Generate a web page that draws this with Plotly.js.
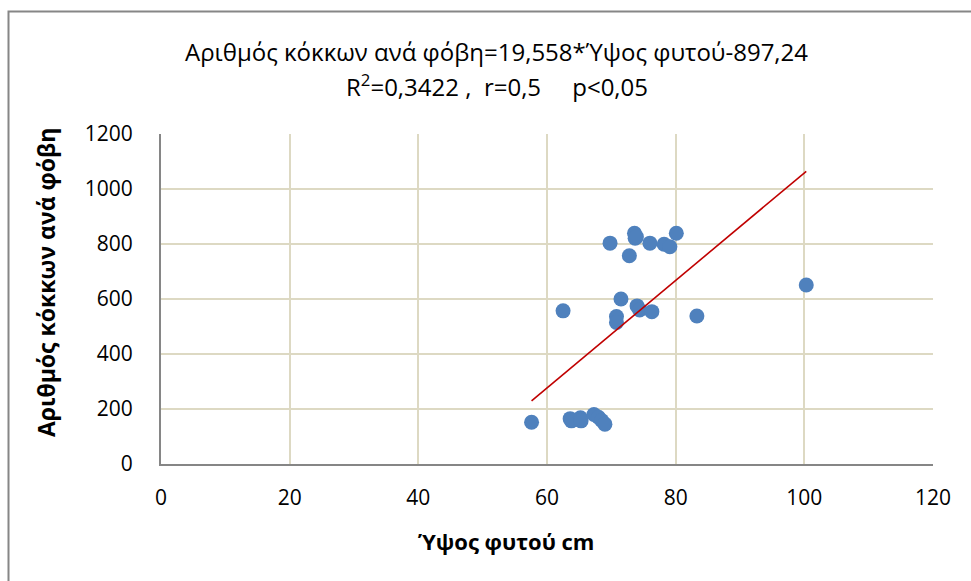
<!DOCTYPE html>
<html>
<head>
<meta charset="utf-8">
<script src="https://cdn.plot.ly/plotly-3.0.1.min.js"></script>
<style>
  html, body { margin: 0; padding: 0; background: #fff; }
  #chart { width: 971px; height: 581px; }
</style>
</head>
<body>
<div id="chart"></div>
<script>
// Plant height (cm) and number of grains per panicle
const plantHeight = [57.6, 63.6, 63.8, 65.2, 65.3, 67.3, 68.0, 68.5, 69.0,
                     62.5, 70.8, 70.8, 71.5, 74.0, 74.4, 76.3, 83.3,
                     69.8, 72.8, 73.6, 73.7, 73.9, 76.0, 78.2, 79.1, 80.1, 100.3];
const grainsPerPanicle = [152, 165, 157, 168, 157, 180, 170, 158, 145,
                          557, 536, 515, 600, 575, 560, 554, 538,
                          803, 757, 839, 821, 826, 803, 799, 790, 839, 651];

// Linear regression reported in the title
const slope = 19.558;
const intercept = -897.24;
const xTicks = [0, 20, 40, 60, 80, 100, 120];
const yTicks = [0, 200, 400, 600, 800, 1000, 1200];

const titleLines = [
  'Αριθμός κόκκων ανά φόβη=19,558*Ύψος φυτού-897,24',
  'R<sup>2</sup>=0,3422 ,  r=0,5     p<0,05'
];

const xMin = Math.min(...plantHeight);
const xMax = Math.max(...plantHeight);
const fitX = [xMin, xMax];
const fitY = fitX.map(v => slope * v + intercept);

const FONT = "Open Sans, Noto Sans, sans-serif";

const traces = [
  {
    x: plantHeight, y: grainsPerPanicle,
    type: 'scatter', mode: 'markers',
    marker: { color: '#4F81BD', size: 15, line: { width: 0 } },
    hoverinfo: 'x+y', showlegend: false
  },
  {
    x: fitX, y: fitY,
    type: 'scatter', mode: 'lines',
    line: { color: '#C00000', width: 1.6 },
    hoverinfo: 'skip', showlegend: false
  }
];

const axisCommon = {
  showgrid: true, gridcolor: '#DDD9C3', gridwidth: 2,
  showline: true, linecolor: '#868686', linewidth: 2,
  zeroline: false, ticks: 'outside', tickcolor: 'rgba(0,0,0,0)',
  tickfont: { family: FONT, size: 21, color: '#000' },
  fixedrange: true
};

// plot area spans 161..933 px horizontally, 134..464 px vertically
const px2x = px => (px - 161) / 772;
const py2y = py => (464 - py) / 330;

const layout = {
  width: 971, height: 581,
  margin: { l: 161, r: 38, t: 134, b: 117 },
  paper_bgcolor: '#ffffff', plot_bgcolor: '#ffffff',
  font: { family: FONT, color: '#000000', size: 18 },
  xaxis: Object.assign({}, axisCommon, {
    range: [0, 120], tickvals: xTicks, ticktext: xTicks.map(String), ticklen: 14
  }),
  yaxis: Object.assign({}, axisCommon, {
    range: [0, 1200], tickvals: yTicks, ticktext: yTicks.map(String), ticklen: 22
  }),
  annotations: [
    {
      text: titleLines[0], xref: 'paper', yref: 'paper',
      x: px2x(496), y: py2y(52), xanchor: 'center', yanchor: 'middle', showarrow: false,
      font: { family: FONT, size: 24, color: '#000' }
    },
    {
      text: titleLines[1], xref: 'paper', yref: 'paper',
      x: px2x(497), y: py2y(86), xanchor: 'center', yanchor: 'middle', showarrow: false,
      font: { family: FONT, size: 24, color: '#000' }
    },
    {
      text: '<b>Ύψος φυτού cm</b>', xref: 'paper', yref: 'paper',
      x: px2x(506), y: py2y(541),
      xanchor: 'center', yanchor: 'middle', showarrow: false,
      font: { family: FONT, size: 22, color: '#000' }
    },
    {
      text: '<b>Αριθμός κόκκων ανά φόβη</b>', xref: 'paper', yref: 'paper',
      x: px2x(46), y: py2y(283), textangle: -90,
      xanchor: 'center', yanchor: 'middle', showarrow: false,
      font: { family: FONT, size: 23, color: '#000' }
    }
  ],
  shapes: [
    {
      type: 'rect', xref: 'paper', yref: 'paper',
      x0: px2x(8.5), x1: 1.06, y0: -0.38, y1: py2y(11.5),
      line: { color: '#868686', width: 2 }, fillcolor: 'rgba(0,0,0,0)', layer: 'below'
    }
  ]
};

Plotly.newPlot('chart', traces, layout, { displayModeBar: false, staticPlot: true });
</script>
</body>
</html>
